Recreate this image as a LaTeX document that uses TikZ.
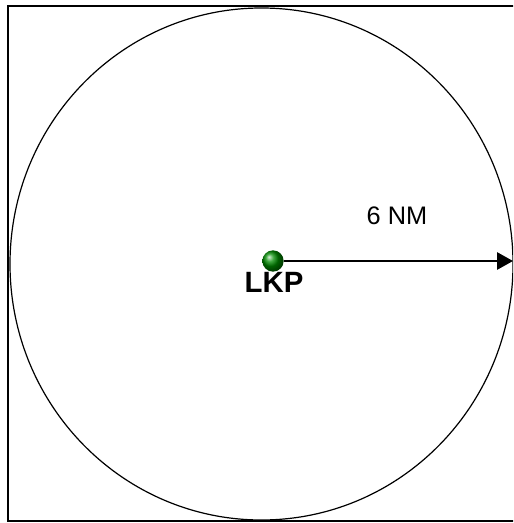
\documentclass[tikz,border=0pt]{standalone}
\usepackage{fontspec}
\setmainfont{Liberation Sans}
\usetikzlibrary{arrows.meta}
\begin{document}
\begin{tikzpicture}[x=0.75pt,y=-0.75pt,
  frame/.style={draw=black,line width=1.6pt},
  zone/.style={draw=black,line width=0.9pt},
  radiusarrow/.style={draw=black,line width=1.4pt,-{Triangle[length=12pt,width=13pt]}},
  lbl/.style={font=\fontsize{19}{22}\selectfont,inner sep=0pt},
  lkp/.style={font=\bfseries\fontsize{22}{26}\selectfont,inner sep=0pt}]
\useasboundingbox (0,0) rectangle (513,523);
\clip (0,0) rectangle (513,523);
\fill[white] (0,0) rectangle (513,523);
\draw[frame] (8,6) rectangle (560,521);
\draw[zone] (261.5,264) ellipse [x radius=251.5, y radius=256];
\coordinate (tip) at (513,261);
\node[circle,minimum size=16pt,inner sep=0pt,ball color=green!55!black] (dot) at (273,261) {};
\draw[radiusarrow] (dot.east) -- (tip);
\node[lkp] (lkptext) at (274,282) {LKP};
\node[lbl] (dist) at (397,216) {6 NM};
\end{tikzpicture}
\end{document}
